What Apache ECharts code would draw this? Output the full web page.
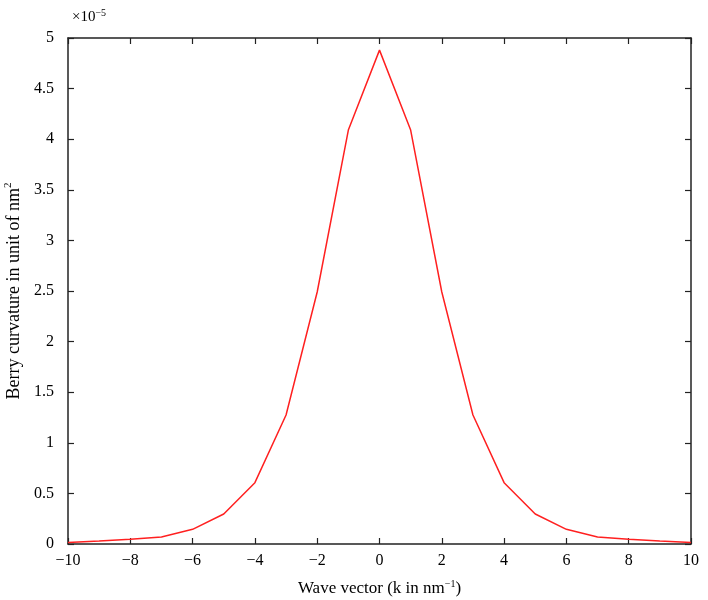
<!DOCTYPE html>
<html>
<head>
<meta charset="utf-8">
<script src="https://cdn.jsdelivr.net/npm/echarts@6/dist/echarts.min.js"></script>
<style>
  html, body { margin: 0; padding: 0; background: #fff; }
  #echart-line { width: 708px; height: 600px; }
</style>
</head>
<body>
<div id="echart-line"></div>
<script>
// wave vector k (nm^-1)
const kValues = [-10, -9, -8, -7, -6, -5, -4, -3, -2, -1, 0, 1, 2, 3, 4, 5, 6, 7, 8, 9, 10]
// Berry curvature in units of 1e-5 nm^2
const berryValues = [0.015, 0.03, 0.046, 0.07, 0.145, 0.296, 0.606, 1.275, 2.49, 4.09, 4.88,
    4.09, 2.49, 1.275, 0.606, 0.296, 0.145, 0.07, 0.046, 0.03, 0.015]

const fontFamily = '"Liberation Serif", "Times New Roman", serif'
const minus = v => String(v).replace('-', '\u2212')

let getchart = echarts.init(document.getElementById('echart-line'))
let axisLine = { show: true, onZero: false, lineStyle: { color: '#222', width: 1.5 } }
let axisTick = { show: true, inside: true, length: 6, lineStyle: { color: '#222', width: 1.2 } }
let option = {
    animation: false,
    textStyle: { fontFamily },
    grid: { left: 68, right: 17, top: 38, bottom: 56, containLabel: false, outerBoundsMode: 'none' },
    graphic: [{
        type: 'text',
        left: 72,
        top: 8,
        style: {
            text: '×10{sup|\u22125}',
            font: '15px ' + fontFamily,
            fill: '#000',
            rich: { sup: { fontSize: 10, verticalAlign: 'top', padding: [0, 0, 8, 0], fontFamily } },
        },
    }],
    xAxis: [{
        type: 'value',
        min: -10,
        max: 10,
        interval: 2,
        name: 'Wave vector (k in nm{sup|\u22121})',
        nameLocation: 'middle',
        nameGap: 35,
        nameTextStyle: {
            fontSize: 17, color: '#000', fontFamily,
            rich: { sup: { fontSize: 10, padding: [0, 0, 10, 0], fontFamily } },
        },
        axisLine,
        axisTick,
        axisLabel: { fontSize: 16, color: '#000', margin: 9, formatter: minus },
        splitLine: { show: false },
    }, {
        type: 'value',
        position: 'top',
        min: -10,
        max: 10,
        interval: 2,
        axisLine,
        axisTick,
        axisLabel: { show: false },
        splitLine: { show: false },
    }],
    yAxis: [{
        type: 'value',
        min: 0,
        max: 5,
        interval: 0.5,
        name: 'Berry curvature in unit of nm{sup|2}',
        nameLocation: 'middle',
        nameGap: 38,
        nameTextStyle: {
            fontSize: 18, color: '#000', fontFamily,
            rich: { sup: { fontSize: 11, padding: [0, 0, 11, 0], fontFamily } },
        },
        axisLine,
        axisTick,
        axisLabel: { fontSize: 16, color: '#000', margin: 14 },
        splitLine: { show: false },
    }, {
        type: 'value',
        position: 'right',
        min: 0,
        max: 5,
        interval: 0.5,
        axisLine,
        axisTick,
        axisLabel: { show: false },
        splitLine: { show: false },
    }],
    series: [
        {
            type: 'line',
            data: kValues.map((k, i) => [k, berryValues[i]]),
            showSymbol: false,
            lineStyle: { color: '#ff2020', width: 1.5 },
        },
    ],
}

getchart.setOption(option)
window.addEventListener('resize', () => {
    getchart.resize()
})
</script>
</body>
</html>
